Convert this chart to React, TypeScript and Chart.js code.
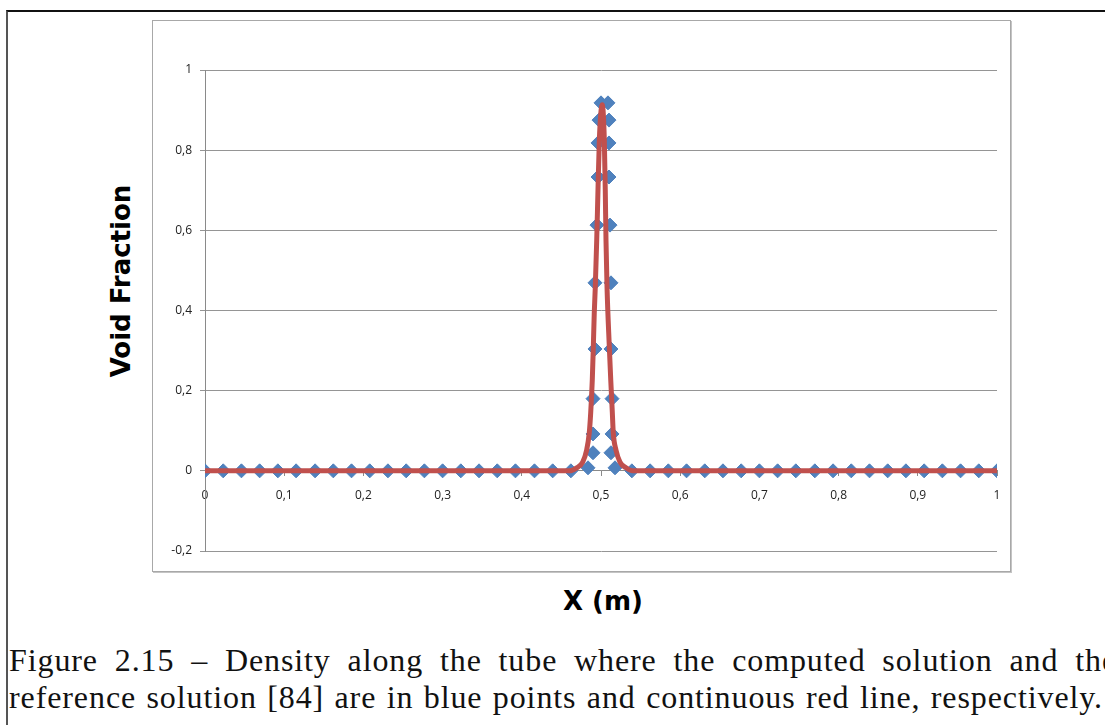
import React, { useEffect, useRef } from "react";
import { Chart, registerables } from "chart.js";

Chart.register(...registerables);

// Reference solution: continuous red curve (x in m, void fraction)
const refX = [
  0, 0.1, 0.2, 0.3, 0.4, 0.46,
  0.4693, 0.4769, 0.4819, 0.4852, 0.487, 0.489, 0.4903, 0.4915, 0.4928, 0.4946, 0.4962, 0.4979,
  0.5016,
  0.5042, 0.5054, 0.5063, 0.5076, 0.5105, 0.5123, 0.5143, 0.5155, 0.5189, 0.524, 0.5316,
  0.54, 0.6, 0.7, 0.8, 0.9, 1,
];
const refY = [
  0, 0, 0, 0, 0, 0,
  0.0075, 0.022, 0.052, 0.095, 0.145, 0.227, 0.309, 0.394, 0.459, 0.576, 0.701, 0.825,
  0.913,
  0.825, 0.701, 0.576, 0.459, 0.309, 0.227, 0.145, 0.095, 0.052, 0.022, 0.0075,
  0, 0, 0, 0, 0, 0,
];

// Computed solution: blue diamond markers
const computedX = [
  0, 0.023, 0.046, 0.069, 0.092, 0.115, 0.139, 0.162, 0.185, 0.208, 0.231,
  0.254, 0.277, 0.3, 0.323, 0.346, 0.369, 0.392, 0.416, 0.439, 0.462,
  0.4836, 0.4899, 0.4899, 0.4899, 0.4924, 0.4924, 0.4949, 0.4962, 0.4962, 0.4975, 0.5,
  0.5088, 0.5101, 0.5101, 0.5101, 0.5114, 0.5126, 0.5126, 0.5139, 0.5139, 0.5126, 0.5177,
  0.539, 0.562, 0.585, 0.608, 0.631, 0.654, 0.677, 0.7, 0.723, 0.746, 0.77,
  0.793, 0.816, 0.839, 0.862, 0.885, 0.908, 0.931, 0.954, 0.977, 1,
];
const computedY = [
  0, 0, 0, 0, 0, 0, 0, 0, 0, 0, 0,
  0, 0, 0, 0, 0, 0, 0, 0, 0, 0,
  0.0075, 0.045, 0.092, 0.18, 0.304, 0.469, 0.613, 0.733, 0.818, 0.875, 0.918,
  0.918, 0.875, 0.818, 0.733, 0.613, 0.469, 0.304, 0.18, 0.092, 0.045, 0.0075,
  0, 0, 0, 0, 0, 0, 0, 0, 0, 0, 0,
  0, 0, 0, 0, 0, 0, 0, 0, 0, 0,
];

const xTickLabels = ["0", "0,1", "0,2", "0,3", "0,4", "0,5", "0,6", "0,7", "0,8", "0,9", "1"];
const yTickLabels = ["-0,2", "0", "0,2", "0,4", "0,6", "0,8", "1"];

const yAxisTitle = "Void Fraction";
const xAxisTitle = "X (m)";
const captionLine1 = "Figure 2.15 \u2013 Density along the tube where the computed solution and the";
const captionLine2 = "reference solution [84] are in blue points and continuous red line, respectively.";

const BLUE = "#4F81BD";
const RED = "#C0504D";
const GRID = "#959595";
const AXIS = "#8a8a8a";
const TICK_FONT = { family: "'Open Sans', sans-serif", size: 12 };

export default function App() {
  const canvasRef = useRef<HTMLCanvasElement | null>(null);

  useEffect(() => {
    const canvas = canvasRef.current;
    if (!canvas) return;
    const chart = new Chart(canvas, {
      type: "scatter",
      data: {
        datasets: [
          {
            label: "Reference solution",
            data: refX.map((x, i) => ({ x, y: refY[i] })),
            showLine: true,
            borderColor: RED,
            backgroundColor: RED,
            borderWidth: 5,
            pointRadius: 0,
            pointHoverRadius: 0,
            cubicInterpolationMode: "monotone",
            borderCapStyle: "round",
            borderJoinStyle: "round",
          },
          {
            label: "Computed solution",
            data: computedX.map((x, i) => ({ x, y: computedY[i] })),
            showLine: false,
            pointStyle: "rectRot",
            pointRadius: 7,
            pointHoverRadius: 7,
            backgroundColor: BLUE,
            borderColor: BLUE,
            borderWidth: 1,
          },
        ],
      },
      options: {
        responsive: false,
        animation: false,
        devicePixelRatio: 1,
        events: [],
        layout: { padding: { left: 0, right: 13, top: 49, bottom: 20 } },
        plugins: { legend: { display: false }, tooltip: { enabled: false } },
        scales: {
          x: {
            type: "linear",
            position: { y: 0 },
            min: 0,
            max: 1,
            afterFit: (scale: any) => {
              // end labels may overhang into the layout padding
              scale.paddingLeft = 0;
              scale.paddingRight = 0;
            },
            ticks: {
              stepSize: 0.1,
              padding: 13,
              maxRotation: 0,
              autoSkip: false,
              color: "#222",
              font: TICK_FONT,
              callback: (_v: any, i: number) => xTickLabels[i],
            },
            grid: { drawOnChartArea: false, drawTicks: true, tickLength: 5, color: AXIS },
            border: { display: true, color: AXIS, width: 1 },
          },
          y: {
            type: "linear",
            position: "left",
            min: -0.2,
            max: 1,
            afterFit: (scale: any) => {
              scale.width = 52;
            },
            ticks: {
              stepSize: 0.2,
              padding: 8,
              color: "#222",
              font: TICK_FONT,
              callback: (_v: any, i: number) => yTickLabels[i],
            },
            grid: { color: GRID, tickLength: 5, drawTicks: true },
            border: { display: true, color: AXIS, width: 1 },
          },
        },
      },
    });
    return () => chart.destroy();
  }, []);

  const captionStyle: React.CSSProperties = {
    position: "absolute",
    left: 9,
    fontFamily: "'Liberation Serif', serif",
    fontSize: 32,
    lineHeight: "32px",
    letterSpacing: "0.9px",
    whiteSpace: "nowrap",
    textAlign: "justify",
    textAlignLast: "justify",
    color: "#111",
  };

  return (
    <div
      style={{
        position: "fixed",
        left: 0,
        top: 0,
        width: 1105,
        height: 725,
        overflow: "hidden",
        background: "#fff",
      }}
    >
      <div
        style={{
          position: "absolute",
          left: 6,
          top: 10,
          width: 1200,
          height: 800,
          borderTop: "2px solid #111",
          borderLeft: "2px solid #555",
        }}
      />
      <div
        style={{
          position: "absolute",
          left: 152,
          top: 20,
          width: 857,
          height: 550,
          border: "1px solid #a8a8a8",
          boxShadow: "1px 1px 0 #c4c4c4",
        }}
      >
        <canvas
          ref={canvasRef}
          width={857}
          height={550}
          style={{ display: "block", width: 857, height: 550 }}
        />
      </div>
      <div
        style={{
          position: "absolute",
          left: 121,
          top: 281,
          transform: "translate(-50%, -50%) rotate(-90deg)",
          fontFamily: "'DejaVu Sans', sans-serif",
          fontWeight: "bold",
          fontSize: 26,
          whiteSpace: "nowrap",
          color: "#000",
        }}
      >
        {yAxisTitle}
      </div>
      <div
        style={{
          position: "absolute",
          left: 603,
          top: 601,
          transform: "translate(-50%, -50%)",
          fontFamily: "'DejaVu Sans', sans-serif",
          fontWeight: "bold",
          fontSize: 26,
          whiteSpace: "nowrap",
          color: "#000",
        }}
      >
        {xAxisTitle}
      </div>
      <div style={{ ...captionStyle, top: 644, width: 1108 }}>{captionLine1}</div>
      <div style={{ ...captionStyle, top: 681, width: 1094 }}>{captionLine2}</div>
    </div>
  );
}
